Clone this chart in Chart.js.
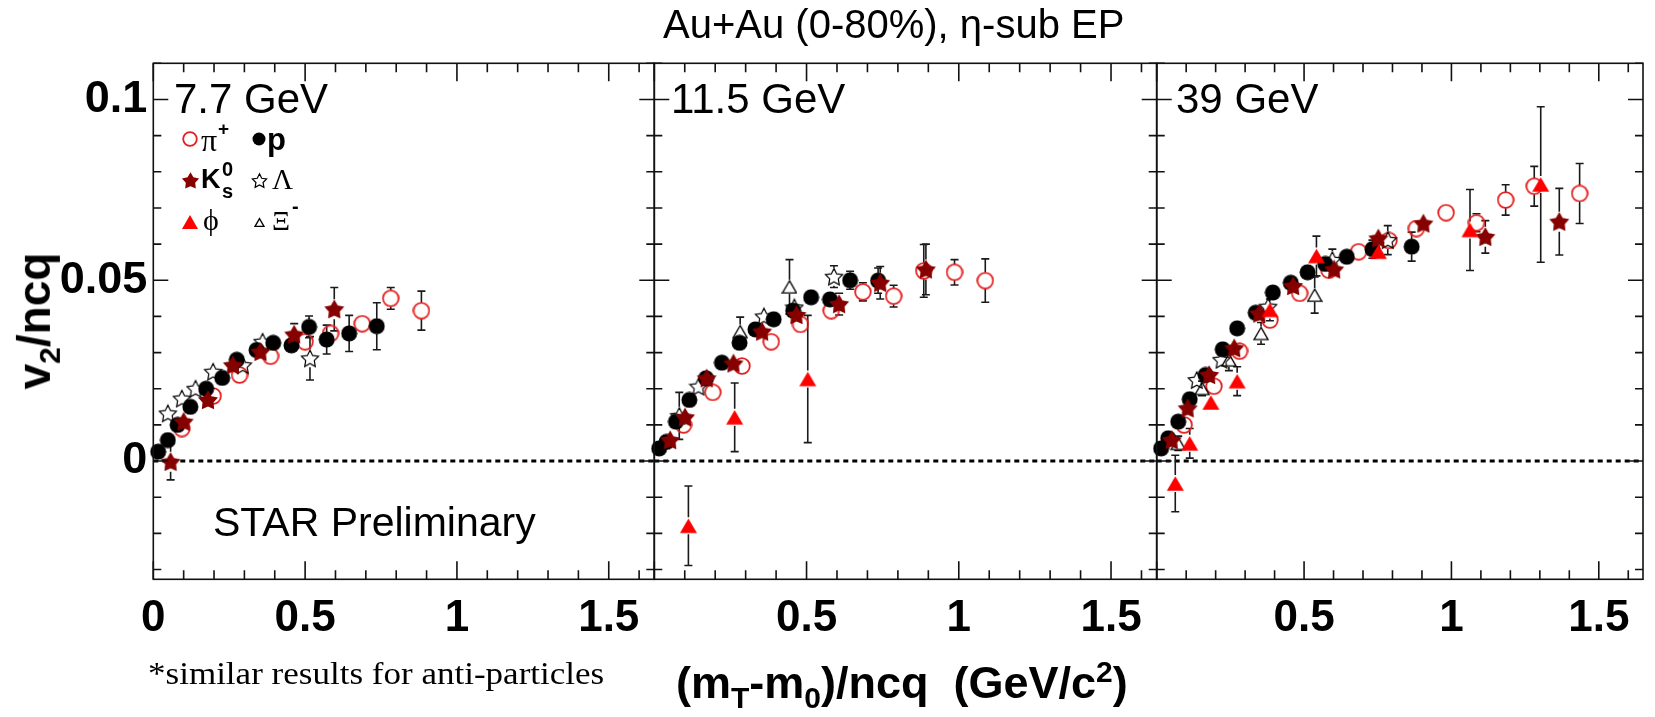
<!DOCTYPE html>
<html>
<head>
<meta charset="utf-8">
<script src="https://cdn.jsdelivr.net/npm/chart.js@4.4.0/dist/chart.umd.min.js"></script>
<style>
  body { margin: 0; background: #fff; }
  #wrap { position: relative; width: 1655px; height: 717px; overflow: hidden; font-family: "Liberation Sans", Arial, sans-serif; }
  #wrap canvas.chart { position: absolute; left: 0; top: 0; }
  .t { position: absolute; white-space: nowrap; color: #000; line-height: 1; }
  .serif { font-family: "Liberation Serif", "Times New Roman", serif; }
  .b { font-weight: bold; }
  .mk { position: absolute; }
</style>
</head>
<body>
<div id="wrap">
  <canvas class="chart" id="c0" width="1655" height="717"></canvas>
  <canvas class="chart" id="c1" width="1655" height="717"></canvas>
  <canvas class="chart" id="c2" width="1655" height="717"></canvas>

  <div class="t" style="left:663px;top:4px;font-size:40px;">Au+Au (0-80%), η-sub EP</div>

  <div class="t" style="left:174px;top:78px;font-size:42px;">7.7 GeV</div>
  <div class="t" style="left:671px;top:78px;font-size:42px;">11.5 GeV</div>
  <div class="t" style="left:1176px;top:78px;font-size:42px;">39 GeV</div>
  <div class="t" style="left:213px;top:502px;font-size:41px;">STAR Preliminary</div>

  <!-- legend text -->
  <div class="t serif" style="left:201px;top:124px;font-size:32px;">π</div>
  <div class="t b" style="left:218px;top:119px;font-size:19px;">+</div>
  <div class="t b" style="left:267px;top:124px;font-size:31px;">p</div>
  <div class="t b" style="left:201px;top:166px;font-size:27px;">K</div>
  <div class="t b" style="left:222px;top:159px;font-size:20px;">0</div>
  <div class="t b" style="left:222px;top:181px;font-size:20px;">s</div>
  <div class="t serif" style="left:272px;top:165px;font-size:29px;">Λ</div>
  <div class="t serif" style="left:203px;top:205px;font-size:30px;">ϕ</div>
  <div class="t serif" style="left:272px;top:207px;font-size:28px;">Ξ</div>
  <div class="t b" style="left:292px;top:196px;font-size:20px;">-</div>

  <div class="t b" style="left:38px;top:321px;font-size:46px;transform:translate(-50%,-50%) rotate(-90deg);">v<sub style="font-size:30px;">2</sub>/ncq</div>
  <div class="t b" style="left:676px;top:657px;font-size:45px;">(m<sub style="font-size:30px;">T</sub>-m<sub style="font-size:30px;">0</sub>)/ncq&nbsp;&nbsp;(GeV/c<sup style="font-size:30px;">2</sup>)</div>
  <div class="t serif" style="left:148px;top:658px;font-size:31px;transform:scaleX(1.13);transform-origin:left top;">*similar results for anti-particles</div>
</div>

<script>
// axis ranges and tick labels
const xRange = [0, 1.65];
const yRange = [-0.0327, 0.11];
const xTicksFirst = [0, 0.5, 1, 1.5];
const xTicksRest = [0.5, 1, 1.5];
const yTicks = [0, 0.05, 0.1];

// 7.7 GeV
const pi77X = [0.094, 0.197, 0.284, 0.386, 0.50, 0.584, 0.688, 0.782, 0.883];
const pi77Y = [0.009, 0.018, 0.0238, 0.029, 0.033, 0.0353, 0.038, 0.045, 0.0416];
const pi77E = [0.001, 0.001, 0.001, 0.0015, 0.002, 0.002, 0.002, 0.003, 0.0054];
const p77X = [0.016, 0.048, 0.08, 0.122, 0.174, 0.227, 0.275, 0.34, 0.395, 0.455, 0.513, 0.571, 0.645, 0.736];
const p77Y = [0.0026, 0.0058, 0.010, 0.015, 0.020, 0.023, 0.028, 0.0307, 0.0327, 0.032, 0.0371, 0.0336, 0.0353, 0.0373];
const p77E = [0.0005, 0.0008, 0.001, 0.001, 0.001, 0.001, 0.0012, 0.0015, 0.0018, 0.002, 0.003, 0.004, 0.005, 0.0065];
const k77X = [0.057, 0.1, 0.18, 0.262, 0.353, 0.464, 0.596];
const k77Y = [-0.0002, 0.0109, 0.0169, 0.0265, 0.0302, 0.035, 0.042];
const k77E = [0.005, 0.0015, 0.002, 0.002, 0.0025, 0.003, 0.006];
const lam77X = [0.048, 0.094, 0.139, 0.197, 0.295, 0.36, 0.516];
const lam77Y = [0.0132, 0.0173, 0.020, 0.0247, 0.0265, 0.033, 0.0284];
const lam77E = [0.001, 0.0012, 0.0015, 0.0018, 0.002, 0.002, 0.006];

// 11.5 GeV
const pi115X = [0.096, 0.192, 0.288, 0.384, 0.48, 0.581, 0.685, 0.786, 0.885, 0.986, 1.087];
const pi115Y = [0.010, 0.019, 0.0263, 0.033, 0.0378, 0.0416, 0.0468, 0.0456, 0.0526, 0.0522, 0.0499];
const pi115E = [0.001, 0.001, 0.0012, 0.0015, 0.002, 0.002, 0.0025, 0.003, 0.0073, 0.0035, 0.006];
const p115X = [0.016, 0.04, 0.071, 0.115, 0.17, 0.222, 0.28, 0.332, 0.392, 0.456, 0.515, 0.577, 0.643, 0.735];
const p115Y = [0.0035, 0.0053, 0.0109, 0.0169, 0.0229, 0.0272, 0.0327, 0.0364, 0.0392, 0.0416, 0.0453, 0.0447, 0.050, 0.0499];
const p115E = [0.0005, 0.0008, 0.001, 0.001, 0.001, 0.001, 0.0012, 0.0015, 0.0015, 0.002, 0.002, 0.002, 0.0025, 0.0035];
const k115X = [0.052, 0.101, 0.172, 0.26, 0.354, 0.467, 0.607, 0.742, 0.892];
const k115Y = [0.0058, 0.0121, 0.0229, 0.027, 0.0358, 0.0404, 0.0434, 0.0493, 0.053];
const k115E = [0.001, 0.0012, 0.0015, 0.0015, 0.002, 0.0025, 0.003, 0.0045, 0.007];
const lam115X = [0.082, 0.145, 0.36, 0.46, 0.59];
const lam115Y = [0.0125, 0.0206, 0.040, 0.0425, 0.051];
const lam115E = [0.0065, 0.0015, 0.002, 0.002, 0.003];
const xi115X = [0.282, 0.444];
const xi115Y = [0.0358, 0.0482];
const xi115E = [0.004, 0.0075];
const phi115X = [0.112, 0.264, 0.504];
const phi115Y = [-0.0179, 0.0121, 0.0227];
const phi115E = [0.011, 0.0095, 0.0176];

// 39 GeV
const pi39X = [0.093, 0.194, 0.281, 0.384, 0.485, 0.584, 0.685, 0.788, 0.881, 0.982, 1.085, 1.184, 1.281, 1.435];
const pi39Y = [0.010, 0.0207, 0.0304, 0.039, 0.0464, 0.0528, 0.0579, 0.061, 0.0643, 0.0687, 0.0659, 0.0722, 0.076, 0.074];
const pi39E = [0.001, 0.001, 0.001, 0.0012, 0.0015, 0.0015, 0.002, 0.002, 0.002, 0.002, 0.0025, 0.0042, 0.0055, 0.0083];
const p39X = [0.015, 0.039, 0.073, 0.112, 0.166, 0.224, 0.273, 0.336, 0.394, 0.455, 0.512, 0.572, 0.645, 0.732, 0.865];
const p39Y = [0.0035, 0.0063, 0.0109, 0.0171, 0.0238, 0.0309, 0.0367, 0.041, 0.0466, 0.0493, 0.0522, 0.0545, 0.0565, 0.0586, 0.0593];
const p39E = [0.0005, 0.0006, 0.0008, 0.001, 0.001, 0.001, 0.001, 0.0012, 0.0012, 0.0015, 0.0015, 0.0015, 0.002, 0.0025, 0.004];
const k39X = [0.051, 0.105, 0.178, 0.263, 0.348, 0.463, 0.602, 0.752, 0.905, 1.115, 1.366];
const k39Y = [0.0058, 0.0146, 0.0238, 0.0312, 0.0408, 0.0484, 0.053, 0.0616, 0.0657, 0.062, 0.0662];
const k39E = [0.001, 0.001, 0.001, 0.0012, 0.0015, 0.0015, 0.002, 0.0025, 0.0025, 0.0045, 0.0092];
const lam39X = [0.136, 0.22, 0.378, 0.596, 0.784];
const lam39Y = [0.0224, 0.028, 0.0427, 0.0556, 0.0611];
const lam39E = [0.001, 0.0015, 0.002, 0.003, 0.004];
const xi39X = [0.073, 0.154, 0.245, 0.354, 0.536];
const xi39Y = [0.0049, 0.0201, 0.028, 0.0353, 0.0459];
const xi39E = [0.002, 0.002, 0.003, 0.003, 0.005];
const phi39X = [0.063, 0.112, 0.184, 0.273, 0.384, 0.542, 0.752, 1.063, 1.303];
const phi39Y = [-0.0062, 0.0049, 0.0162, 0.0221, 0.0418, 0.0567, 0.0579, 0.0639, 0.0765];
const phi39E = [0.0078, 0.0041, 0.002, 0.004, 0.003, 0.0055, 0.0015, 0.0112, 0.0215];

const RED = "rgb(230,30,30)";
const DARKRED = "rgb(135,0,0)";

// marker shapes drawn to small canvases (used as Chart.js pointStyle and in the legend)
function starPath(g, cx, cy, R, r) {
    g.beginPath();
    for (let i = 0; i < 10; i++) {
        const rad = i % 2 === 0 ? R : r;
        const a = -Math.PI / 2 + i * Math.PI / 5;
        const px = cx + rad * Math.cos(a), py = cy + rad * Math.sin(a);
        if (i === 0) g.moveTo(px, py); else g.lineTo(px, py);
    }
    g.closePath();
}
function triPath(g, s) {
    const side = s - 2, h = side * 0.866;
    const top = (s - h) / 2;
    g.beginPath();
    g.moveTo(s / 2, top);
    g.lineTo(s / 2 + side / 2, top + h);
    g.lineTo(s / 2 - side / 2, top + h);
    g.closePath();
}
function marker(kind, s) {
    const c = document.createElement("canvas");
    c.width = s; c.height = s;
    const g = c.getContext("2d");
    const m = s / 2;
    if (kind === "oc") {
        g.strokeStyle = RED; g.lineWidth = 1.8;
        g.beginPath(); g.arc(m, m, m - 1.2, 0, Math.PI * 2); g.stroke();
    } else if (kind === "fc") {
        g.fillStyle = "#000";
        g.beginPath(); g.arc(m, m, m - 0.5, 0, Math.PI * 2); g.fill();
    } else if (kind === "fs") {
        g.fillStyle = DARKRED;
        starPath(g, m, m + 0.8, m - 0.5, (m - 0.5) * 0.55); g.fill();
    } else if (kind === "os") {
        g.strokeStyle = "#000"; g.lineWidth = 1.2;
        starPath(g, m, m + 0.8, m - 1, (m - 1) * 0.5); g.stroke();
    } else if (kind === "ft") {
        g.fillStyle = "rgb(255,0,0)";
        triPath(g, s); g.fill();
    } else if (kind === "ot") {
        g.strokeStyle = "#000"; g.lineWidth = 1.3;
        triPath(g, s); g.stroke();
    }
    return c;
}

const kinds = {
    pi:  { label: "pi+", mk: "oc", size: 18 },
    p:   { label: "p", mk: "fc", size: 17 },
    k0s: { label: "K0s", mk: "fs", size: 22 },
    lam: { label: "Lambda", mk: "os", size: 20 },
    phi: { label: "phi", mk: "ft", size: 19 },
    xi:  { label: "Xi-", mk: "ot", size: 16 },
};
// first entry is drawn on top
const drawOrder = ["phi", "k0s", "xi", "lam", "p", "pi"];

const panels = [
    { canvas: "c0", left: 153.3, right: 654.3, xTicks: xTicksFirst, showY: true,
      series: { pi: [pi77X, pi77Y, pi77E], p: [p77X, p77Y, p77E], k0s: [k77X, k77Y, k77E], lam: [lam77X, lam77Y, lam77E] } },
    { canvas: "c1", left: 654.3, right: 1156.7, xTicks: xTicksRest, showY: false,
      series: { pi: [pi115X, pi115Y, pi115E], p: [p115X, p115Y, p115E], k0s: [k115X, k115Y, k115E],
                lam: [lam115X, lam115Y, lam115E], xi: [xi115X, xi115Y, xi115E], phi: [phi115X, phi115Y, phi115E] } },
    { canvas: "c2", left: 1156.7, right: 1655, xTicks: xTicksRest, showY: false,
      series: { pi: [pi39X, pi39Y, pi39E], p: [p39X, p39Y, p39E], k0s: [k39X, k39Y, k39E],
                lam: [lam39X, lam39Y, lam39E], xi: [xi39X, xi39Y, xi39E], phi: [phi39X, phi39Y, phi39E] } },
];

// ROOT-like frame: inward ticks on all sides, dotted zero line, error bars
const rootFrame = {
    id: "rootFrame",
    beforeDatasetsDraw(chart) {
        const { ctx, chartArea: a, scales } = chart;
        const y0 = scales.y.getPixelForValue(0);
        ctx.save();
        ctx.strokeStyle = "#000";
        ctx.lineWidth = 3;
        ctx.setLineDash([5, 4]);
        ctx.beginPath();
        ctx.moveTo(a.left, y0);
        ctx.lineTo(a.right, y0);
        ctx.stroke();
        ctx.setLineDash([]);

        ctx.strokeStyle = "#1a1a1a";
        ctx.lineWidth = 1.6;
        chart.data.datasets.forEach((ds, i) => {
            const meta = chart.getDatasetMeta(i);
            meta.data.forEach((pt, j) => {
                const v = ds.data[j].y, e = ds.err[j];
                const yt = scales.y.getPixelForValue(v + e);
                const yb = scales.y.getPixelForValue(v - e);
                const h = ds.half;
                ctx.beginPath();
                if (pt.y - yt > h) {
                    ctx.moveTo(pt.x, pt.y - h); ctx.lineTo(pt.x, yt);
                    ctx.moveTo(pt.x - 4, yt); ctx.lineTo(pt.x + 4, yt);
                }
                if (yb - pt.y > h) {
                    ctx.moveTo(pt.x, pt.y + h); ctx.lineTo(pt.x, yb);
                    ctx.moveTo(pt.x - 4, yb); ctx.lineTo(pt.x + 4, yb);
                }
                ctx.stroke();
            });
        });
        ctx.restore();
    },
    afterDatasetsDraw(chart) {
        const { ctx, chartArea: a, scales } = chart;
        ctx.save();
        ctx.strokeStyle = "#111";
        ctx.lineWidth = 1.6;
        ctx.strokeRect(a.left, a.top, a.right - a.left, a.bottom - a.top);
        ctx.beginPath();
        for (let i = 0; i <= 16; i++) {
            const px = scales.x.getPixelForValue(i / 10);
            const len = i % 5 === 0 ? 18 : 9;
            ctx.moveTo(px, a.bottom); ctx.lineTo(px, a.bottom - len);
            ctx.moveTo(px, a.top); ctx.lineTo(px, a.top + len);
        }
        for (let i = -3; i <= 11; i++) {
            const py = scales.y.getPixelForValue(i / 100);
            const len = i % 5 === 0 ? 15 : 8;
            ctx.moveTo(a.left, py); ctx.lineTo(a.left + len, py);
            ctx.moveTo(a.right, py); ctx.lineTo(a.right - len, py);
        }
        ctx.stroke();
        ctx.restore();
    }
};

const tickFont = (size) => ({ family: "'Liberation Sans', Arial, sans-serif", size: size, weight: "bold" });

panels.forEach((pn) => {
    const datasets = drawOrder.filter((k) => pn.series[k]).map((k) => {
        const [xs, ys, es] = pn.series[k];
        return {
            label: kinds[k].label,
            data: xs.map((x, i) => ({ x: x, y: ys[i] })),
            err: es,
            half: kinds[k].size / 2 - 1,
            pointStyle: marker(kinds[k].mk, kinds[k].size),
            pointRadius: kinds[k].size / 2,
            clip: false,
        };
    });

    const yW = pn.showY ? 100 : 0;
    new Chart(document.getElementById(pn.canvas), {
        type: "scatter",
        data: { datasets: datasets },
        options: {
            responsive: false,
            animation: false,
            devicePixelRatio: 1,
            events: [],
            layout: { padding: { left: pn.left - yW, right: 1655 - pn.right, top: 63.3, bottom: 67.7 } },
            plugins: { legend: { display: false }, tooltip: { enabled: false } },
            scales: {
                x: {
                    type: "linear",
                    min: xRange[0],
                    max: xRange[1],
                    grid: { display: false, drawTicks: false },
                    border: { display: false },
                    afterBuildTicks: (s) => { s.ticks = pn.xTicks.map((v) => ({ value: v })); },
                    afterFit: (s) => { s.height = 70; },
                    ticks: { font: tickFont(44), color: "#000", padding: 13, maxRotation: 0, autoSkip: false,
                             callback: (v) => String(v) },
                },
                y: {
                    type: "linear",
                    display: pn.showY,
                    min: yRange[0],
                    max: yRange[1],
                    grid: { display: false, drawTicks: false },
                    border: { display: false },
                    afterBuildTicks: (s) => { s.ticks = yTicks.map((v) => ({ value: v })); },
                    afterFit: (s) => { s.width = yW; },
                    ticks: { font: tickFont(45), color: "#000", padding: 6, autoSkip: false,
                             callback: (v) => String(v) },
                },
            },
        },
        plugins: [rootFrame],
    });
});

// legend markers
const legendItems = [
    ["pi", 190, 139, 16], ["p", 259, 139, 14],
    ["k0s", 190, 180, 19], ["lam", 259, 180, 17],
    ["phi", 190, 222, 18], ["xi", 259, 222, 11],
];
const wrap = document.getElementById("wrap");
legendItems.forEach(([k, cx, cy, s]) => {
    const c = marker(kinds[k].mk, s);
    c.className = "mk";
    c.style.left = (cx - s / 2) + "px";
    c.style.top = (cy - s / 2) + "px";
    wrap.appendChild(c);
});
</script>
</body>
</html>
